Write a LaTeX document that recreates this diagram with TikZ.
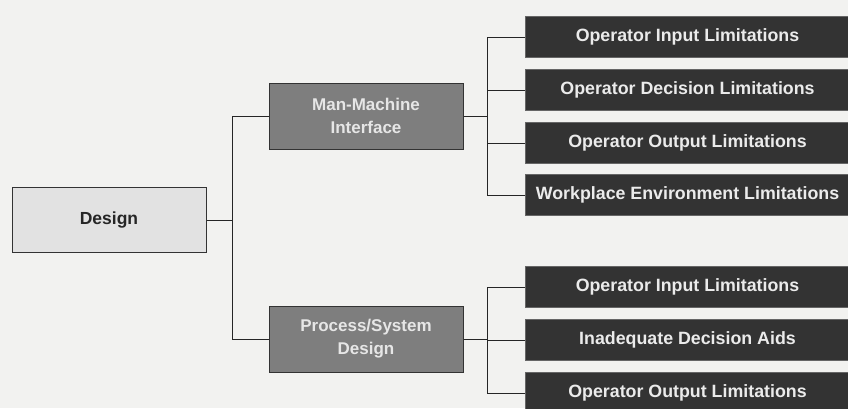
\documentclass[tikz,border=0pt]{standalone}
\usepackage{fontspec}
\setmainfont{Liberation Sans}
\definecolor{bg}{HTML}{F2F2F0}
\definecolor{lightbox}{HTML}{E2E2E2}
\definecolor{midbox}{HTML}{7E7E7E}
\definecolor{darkbox}{HTML}{333333}
\definecolor{midtext}{HTML}{E6E6E6}
\tikzset{
  rootbox/.style={draw=black!80, line width=1pt, fill=lightbox, minimum width=194pt, minimum height=65pt, inner sep=0pt, font=\bfseries\fontsize{17.5}{20}\selectfont, text=black!85},
  midnode/.style={draw=black!80, line width=1pt, fill=midbox, minimum width=194pt, minimum height=66pt, inner sep=0pt, align=center, font=\bfseries\fontsize{17}{23}\selectfont, text=midtext},
  leafbox/.style={draw=black!60, line width=0.6pt, fill=darkbox, minimum width=325pt, minimum height=41pt, inner sep=0pt, font=\bfseries\fontsize{17.8}{20}\selectfont, text=white!92!black},
  conn/.style={draw=black!85, line width=0.9pt}
}
\begin{document}
\begin{tikzpicture}[x=1pt,y=-1pt]
\fill[bg] (0,0) rectangle (848,408);
\useasboundingbox (0,0) rectangle (848,408);
\node[rootbox] (design) at (109,220) {Design};
\node[midnode] (mmi) at (366,116) {Man-Machine\\Interface};
\node[midnode] (psd) at (366,339) {Process/System\\Design};
\node[leafbox] (a1) at (687.5,37) {Operator Input Limitations};
\node[leafbox] (a2) at (687.5,90) {Operator Decision Limitations};
\node[leafbox] (a3) at (687.5,143) {Operator Output Limitations};
\node[leafbox] (a4) at (687.5,195) {Workplace Environment Limitations};
\node[leafbox] (b1) at (687.5,287) {Operator Input Limitations};
\node[leafbox] (b2) at (687.5,340) {Inadequate Decision Aids};
\node[leafbox] (b3) at (687.5,393) {Operator Output Limitations};
\coordinate (busA) at (232,0);
\coordinate (busB) at (487,0);
\draw[conn] (design.east) -- (design.east -| busA);
\draw[conn] (mmi.west) -- (mmi.west -| busA) -- (psd.west -| busA) -- (psd.west);
\draw[conn] (mmi.east) -- (mmi.east -| busB);
\draw[conn] (a1.west) -- (a1.west -| busB) -- (a4.west -| busB) -- (a4.west);
\draw[conn] (a2.west) -- (a2.west -| busB);
\draw[conn] (a3.west) -- (a3.west -| busB);
\draw[conn] (psd.east) -- (psd.east -| busB);
\draw[conn] (b1.west) -- (b1.west -| busB) -- (b3.west -| busB) -- (b3.west);
\draw[conn] (b2.west) -- (b2.west -| busB);
\end{tikzpicture}
\end{document}
